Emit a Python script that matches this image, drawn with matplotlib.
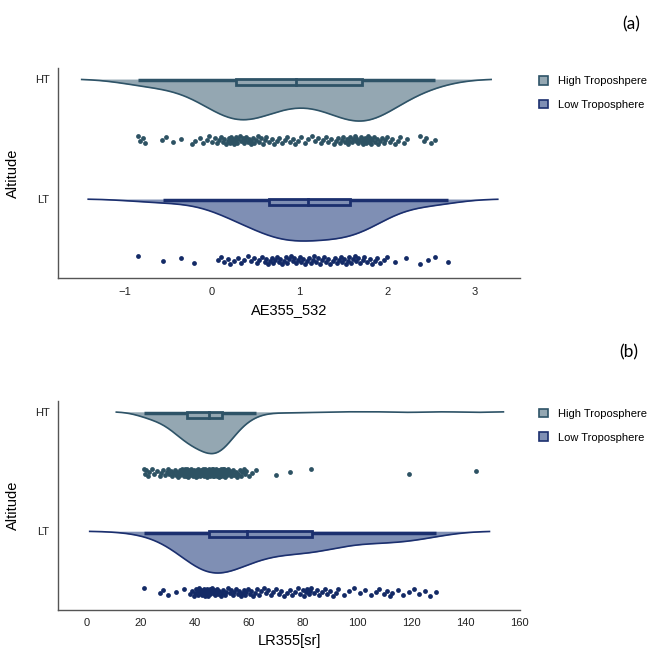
import numpy as np
import matplotlib.pyplot as plt
from matplotlib.patches import Patch, Rectangle

plt.rcParams['font.family'] = ['Liberation Sans', 'DejaVu Sans']

groups = ['HT', 'LT']

# panel (a): AE355_532
ae_ht = [-0.85, -0.82, -0.79, -0.76, -0.57, -0.52, -0.44, -0.35, -0.23, -0.19,
         -0.14, -0.10, -0.06, -0.03, 0.0, 0.03, 0.06, 0.08, 0.10, 0.12,
         0.14, 0.16, 0.18, 0.19, 0.20, 0.21, 0.22, 0.23, 0.24, 0.25,
         0.26, 0.27, 0.28, 0.30, 0.32, 0.33, 0.35, 0.36, 0.38, 0.39,
         0.41, 0.42, 0.44, 0.45, 0.47, 0.48, 0.50, 0.52, 0.54, 0.56,
         0.58, 0.60, 0.62, 0.65, 0.68, 0.71, 0.74, 0.77, 0.80, 0.83,
         0.86, 0.89, 0.92, 0.95, 0.98, 1.02, 1.06, 1.10, 1.14, 1.18,
         1.21, 1.24, 1.27, 1.30, 1.33, 1.36, 1.39, 1.42, 1.44, 1.46,
         1.48, 1.50, 1.52, 1.54, 1.55, 1.57, 1.58, 1.60, 1.61, 1.63,
         1.64, 1.65, 1.67, 1.68, 1.70, 1.71, 1.72, 1.73, 1.74, 1.75,
         1.76, 1.77, 1.78, 1.79, 1.80, 1.82, 1.83, 1.85, 1.86, 1.88,
         1.90, 1.92, 1.94, 1.96, 1.98, 2.00, 2.03, 2.06, 2.09, 2.12,
         2.15, 2.19, 2.23, 2.38, 2.42, 2.45, 2.50, 2.55]
ae_lt = [-0.85, -0.56, -0.35, -0.21, 0.07, 0.10, 0.14, 0.18, 0.21, 0.25,
         0.30, 0.33, 0.37, 0.41, 0.45, 0.48, 0.51, 0.54, 0.57, 0.60,
         0.62, 0.64, 0.66, 0.68, 0.70, 0.72, 0.74, 0.76, 0.78, 0.80,
         0.82, 0.84, 0.86, 0.88, 0.90, 0.92, 0.94, 0.96, 0.98, 1.00,
         1.02, 1.04, 1.06, 1.09, 1.11, 1.13, 1.15, 1.17, 1.19, 1.21,
         1.23, 1.26, 1.28, 1.30, 1.33, 1.35, 1.38, 1.40, 1.43, 1.45,
         1.47, 1.49, 1.51, 1.53, 1.55, 1.57, 1.59, 1.61, 1.63, 1.65,
         1.67, 1.69, 1.72, 1.74, 1.77, 1.80, 1.83, 1.86, 1.89, 1.92,
         1.96, 2.00, 2.09, 2.22, 2.38, 2.47, 2.55, 2.70]

# panel (b): LR355 [sr]
lr_ht = [21, 21.5, 22, 22.5, 23, 24, 25, 26, 27, 27.5,
         28, 29, 29.5, 30, 30.5, 31, 31.5, 32, 32.5, 33,
         33.3, 33.6, 34, 34.3, 34.6, 35, 35.2, 35.4, 35.6, 35.8,
         36, 36.1, 36.2, 36.3, 36.4, 36.5, 36.6, 36.7, 36.8, 37,
         37.2, 37.4, 37.6, 37.8, 38, 38.2, 38.4, 38.6, 38.8, 39,
         39.2, 39.4, 39.6, 39.8, 40, 40.2, 40.4, 40.6, 40.8, 41,
         41.2, 41.4, 41.6, 41.8, 42, 42.2, 42.4, 42.6, 42.8, 43,
         43.2, 43.4, 43.6, 43.8, 44, 44.2, 44.4, 44.6, 44.8, 45,
         45.1, 45.2, 45.3, 45.5, 45.6, 45.7, 45.8, 46, 46.1, 46.2,
         46.3, 46.5, 46.6, 46.7, 46.8, 47, 47.1, 47.2, 47.3, 47.5,
         47.6, 47.7, 47.8, 48, 48.1, 48.2, 48.3, 48.5, 48.6, 48.7,
         48.8, 49, 49.1, 49.2, 49.3, 49.5, 49.6, 49.7, 49.8, 50,
         50.1, 50.2, 50.3, 50.4, 50.5, 50.6, 50.7, 50.8, 50.9, 51,
         51.1, 51.2, 51.4, 51.6, 51.8, 52, 52.3, 52.6, 53, 53.3,
         53.6, 54, 54.5, 55, 55.5, 56, 56.5, 57, 57.5, 58,
         58.5, 59, 60, 61, 62.5, 70, 75, 83, 119, 144]
lr_lt = [21, 27, 28, 30, 33, 36, 38, 39, 39.5, 40,
         40.5, 41, 41.3, 41.6, 42, 42.3, 42.6, 43, 43.2, 43.4,
         43.6, 43.8, 44, 44.1, 44.2, 44.4, 44.6, 44.7, 44.8, 45,
         45.2, 45.4, 45.7, 46, 46.3, 46.6, 47, 47.4, 47.8, 48.2,
         48.6, 49, 49.5, 50, 50.5, 51, 51.6, 52.2, 52.8, 53.4,
         54, 54.6, 55.2, 55.8, 56.4, 57, 57.5, 58, 58.5, 59,
         59.6, 60.2, 60.8, 61.5, 62.2, 63, 63.8, 64.6, 65.4, 66.2,
         67, 68, 69, 70, 71, 72, 73, 74, 75, 76,
         77, 78, 79, 80, 80.5, 81, 81.5, 82, 82.5, 83,
         84, 85, 86, 87, 88, 89, 90, 91, 92, 93,
         95, 97, 99, 101, 103, 105, 107, 108, 110, 111,
         112, 113, 115, 117, 119, 121, 123, 125, 127, 129]

fills = ['#94a7b2', '#7f8fb4']
edges = ['#2e5367', '#1b2f6e']
dots = ['#2d5263', '#132a66']


def kde(vals):
    v = np.asarray(vals, float)
    bw = v.std(ddof=1) * len(v) ** (-1 / 5)
    grid = np.linspace(v.min() - 2 * bw, v.max() + 2 * bw, 300)
    d = np.exp(-0.5 * ((grid[:, None] - v[None, :]) / bw) ** 2).sum(axis=1)
    return grid, d / d.max()


def raincloud(ax, data, labels):
    for i, vals in enumerate(data):
        v = np.asarray(vals, float)
        g, d = kde(v)
        ax.fill_between(g, i, i + 0.35 * d, color=fills[i], lw=0, zorder=1)
        ax.plot(g, i + 0.35 * d, color=edges[i], lw=1.2, zorder=2)

        q1, med, q3 = np.percentile(v, [25, 50, 75])
        iqr = q3 - q1
        lo = v[v >= q1 - 1.5 * iqr].min()
        hi = v[v <= q3 + 1.5 * iqr].max()
        ax.plot([lo, q1], [i + 0.012, i + 0.012], color=edges[i], lw=2.5,
                solid_capstyle='butt', zorder=3)
        ax.plot([q3, hi], [i + 0.012, i + 0.012], color=edges[i], lw=2.5,
                solid_capstyle='butt', zorder=3)
        ax.add_patch(Rectangle((q1, i), q3 - q1, 0.05, facecolor=fills[i],
                               edgecolor=edges[i], lw=2, zorder=3))
        ax.plot([med, med], [i, i + 0.05], color=edges[i], lw=2, zorder=4)

        k = np.arange(len(v))
        jit = ((k * 0.618034) % 1 - 0.5) * 0.07
        ax.scatter(v, i + 0.51 + jit, s=12, color=dots[i], lw=0, zorder=2)

    ax.set_ylim(1.66, -0.09)
    ax.set_yticks([0, 1])
    ax.set_yticklabels(groups)
    ax.set_ylabel('Altitude', fontsize=10.5, labelpad=11)
    for s in ['top', 'right']:
        ax.spines[s].set_visible(False)
    for s in ['left', 'bottom']:
        ax.spines[s].set_color('#555555')
        ax.spines[s].set_linewidth(1)
    ax.tick_params(length=0, labelsize=8, pad=6, colors='#222222')
    handles = [Patch(facecolor=fills[j], edgecolor=edges[j], lw=1.2)
               for j in range(2)]
    ax.legend(handles, labels, loc='upper left', bbox_to_anchor=(1.02, 1.01),
              frameon=False, fontsize=8, handlelength=0.8, handleheight=0.8,
              labelspacing=1.2, handletextpad=0.9)


fig = plt.figure(figsize=(6.51, 6.5), dpi=100)
ax1 = fig.add_axes([0.089, 0.572, 0.710, 0.323])
ax2 = fig.add_axes([0.089, 0.0615, 0.710, 0.3215])

raincloud(ax1, [ae_ht, ae_lt], ['High Troposhpere', 'Low Troposphere'])
ax1.set_xlim(-1.76, 3.52)
ax1.set_xticks([-1, 0, 1, 2, 3])
ax1.set_xlabel('AE355_532', fontsize=10.5, labelpad=5)

raincloud(ax2, [lr_ht, lr_lt], ['High Troposphere', 'Low Troposphere'])
ax2.set_xlim(-10.7, 160.3)
ax2.set_xticks([0, 20, 40, 60, 80, 100, 120, 140, 160])
ax2.set_xlabel('LR355[sr]', fontsize=10.5, labelpad=4)

fig.text(0.969, 0.962, '(a)', fontsize=12.5, family=['Lato', 'DejaVu Sans'],
         ha='center', va='center')
fig.text(0.966, 0.458, '(b)', fontsize=12.5, family=['Lato', 'DejaVu Sans'],
         ha='center', va='center')

fig.savefig('out.png', dpi=100)
